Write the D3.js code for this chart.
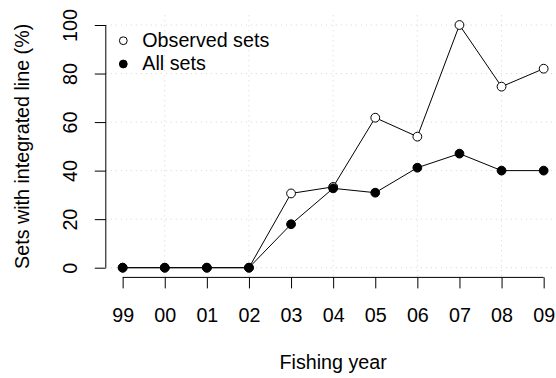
<!DOCTYPE html>
<html>
<head>
<meta charset="utf-8">
<script src="https://cdn.jsdelivr.net/npm/d3@7"></script>
<style>
  html, body { margin: 0; padding: 0; background: #fff; }
  svg { display: block; font-family: "Liberation Sans", Arial, Helvetica, sans-serif; }
</style>
</head>
<body>
<svg id="chart" width="556" height="378"></svg>
<script>
// Fishing years (two-digit labels) and percentage of sets with integrated line
const years = ["99", "00", "01", "02", "03", "04", "05", "06", "07", "08", "09"];
const observedSets = [0, 0, 0, 0, 30.6, 33.3, 61.8, 54.0, 100, 74.6, 82.0];
const allSets = [0, 0, 0, 0, 17.9, 32.7, 30.9, 41.2, 47.0, 40.0, 40.0];
const yTicks = [0, 20, 40, 60, 80, 100];
const gridYears = ["00", "02", "04", "06", "08"];

const svg = d3.select("#chart");
const fontSize = 19.7;

// Plot region with R-style 4% padding around the data range
const x = d3.scaleLinear().domain([-0.4, 10.4]).range([105.8, 560.5]);
const y = d3.scaleLinear().domain([-4, 104]).range([277.4, 15.3]);
const xi = d => x(years.indexOf(d));

// Dotted grid
const grid = svg.append("g")
  .attr("stroke", "#d3d3d3")
  .attr("stroke-width", 1)
  .attr("stroke-dasharray", "1,4");
grid.selectAll("line.h").data(yTicks).join("line")
  .attr("class", "h")
  .attr("x1", x.range()[0]).attr("x2", x.range()[1])
  .attr("y1", d => y(d)).attr("y2", d => y(d));
grid.selectAll("line.v").data(gridYears).join("line")
  .attr("class", "v")
  .attr("x1", d => xi(d)).attr("x2", d => xi(d))
  .attr("y1", y.range()[1]).attr("y2", y.range()[0]);

// Left axis
const yAxis = svg.append("g")
  .attr("transform", `translate(${x.range()[0]},0)`)
  .call(d3.axisLeft(y).tickValues(yTicks).tickSize(11).tickPadding(0).tickFormat(d3.format("d")));
yAxis.select(".domain").remove();
yAxis.append("line")
  .attr("x1", 0).attr("x2", 0)
  .attr("y1", y(0)).attr("y2", y(100))
  .attr("stroke", "#000");
yAxis.selectAll(".tick line").attr("stroke", "#000");
yAxis.selectAll(".tick text")
  .attr("x", null).attr("dy", null)
  .attr("text-anchor", "middle")
  .attr("transform", "translate(-28.5,0) rotate(-90)")
  .attr("fill", "#000")
  .style("font-size", fontSize + "px");

// Bottom axis
const xAxis = svg.append("g")
  .attr("transform", `translate(0,${y.range()[0]})`)
  .call(d3.axisBottom(d3.scalePoint().domain(years).range([x(0), x(10)]))
    .tickSize(11).tickPadding(0));
xAxis.select(".domain").remove();
xAxis.append("line")
  .attr("x1", x(0)).attr("x2", x(10))
  .attr("y1", 0).attr("y2", 0)
  .attr("stroke", "#000");
xAxis.selectAll(".tick line").attr("stroke", "#000");
xAxis.selectAll(".tick text")
  .attr("y", 44.3).attr("dy", null)
  .attr("fill", "#000")
  .style("font-size", fontSize + "px");

// Axis titles
svg.append("text")
  .attr("x", (x.range()[0] + x.range()[1]) / 2)
  .attr("y", 369.3)
  .attr("text-anchor", "middle")
  .style("font-size", fontSize + "px")
  .text("Fishing year");
svg.append("text")
  .attr("transform", `translate(29.3,${(y.range()[0] + y.range()[1]) / 2}) rotate(-90)`)
  .attr("text-anchor", "middle")
  .style("font-size", fontSize + "px")
  .text("Sets with integrated line (%)");

// Series lines and points
const line = d3.line().x((d, i) => x(i)).y(d => y(d));
function drawSeries(values, fill) {
  const g = svg.append("g");
  g.append("path")
    .datum(values)
    .attr("d", line)
    .attr("fill", "none")
    .attr("stroke", "#000")
    .attr("stroke-width", 1);
  g.selectAll("circle").data(values).join("circle")
    .attr("cx", (d, i) => x(i))
    .attr("cy", d => y(d))
    .attr("r", 4.4)
    .attr("fill", fill)
    .attr("stroke", "#000")
    .attr("stroke-width", 1);
}
drawSeries(observedSets, "#fff");
drawSeries(allSets, "#000");

// Legend
const legendItems = [
  { label: "Observed sets", fill: "#fff", cy: 40.7, base: 46.7 },
  { label: "All sets", fill: "#000", cy: 64.0, base: 70.3 }
];
const legend = svg.append("g");
legend.selectAll("circle").data(legendItems).join("circle")
  .attr("cx", 123.3)
  .attr("cy", d => d.cy)
  .attr("r", 3.9)
  .attr("fill", d => d.fill)
  .attr("stroke", "#000")
  .attr("stroke-width", 1);
legend.selectAll("text").data(legendItems).join("text")
  .attr("x", 142.3)
  .attr("y", d => d.base)
  .style("font-size", fontSize + "px")
  .text(d => d.label);
</script>
</body>
</html>
